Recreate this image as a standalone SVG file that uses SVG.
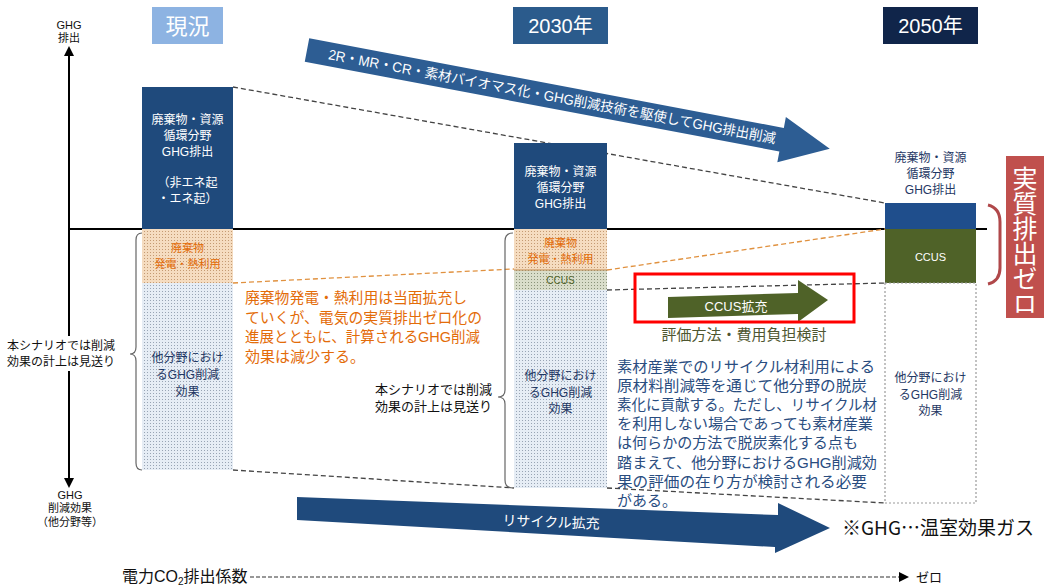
<svg xmlns="http://www.w3.org/2000/svg" width="1044" height="588" viewBox="0 0 1044 588">
<defs>
<style>
text{font-family:"Liberation Sans","Noto Sans CJK JP",sans-serif;}
.j{font-family:"Noto Sans CJK JP",sans-serif;}
.c{text-anchor:middle;}
.w{fill:#ffffff;}
.nv{fill:#1f3864;}
.or{fill:#e36c09;}
.bk{fill:#111111;}
.bl{fill:#2a4d7f;}
.dash{fill:none;stroke:#444;stroke-width:1.3;stroke-dasharray:5,3;}
.odash{fill:none;stroke:#e0913f;stroke-width:1.3;stroke-dasharray:5,3;}
.brace{fill:none;stroke:#666;stroke-width:1.2;}
</style>
<pattern id="dotBlue" width="3" height="3" patternUnits="userSpaceOnUse"><rect width="3" height="3" fill="#e6edf5"/><rect width="1" height="1" fill="#98a4b4"/></pattern>
<pattern id="dotOrange" width="3" height="3" patternUnits="userSpaceOnUse"><rect width="3" height="3" fill="#f5dcc0"/><rect width="1" height="1" fill="#c49a72"/></pattern>
<pattern id="dotGreen" width="3" height="3" patternUnits="userSpaceOnUse"><rect width="3" height="3" fill="#d9ddca"/><rect width="1" height="1" fill="#8a937a"/></pattern>
</defs>
<rect width="1044" height="588" fill="#ffffff"/>

<g id="axes">
<line x1="69" y1="55" x2="69" y2="480" stroke="#000" stroke-width="2"/>
<polygon points="69,46 64,56 74,56" fill="#000"/>
<polygon points="69,488 64,478 74,478" fill="#000"/>
<line x1="69" y1="229" x2="987" y2="229" stroke="#000" stroke-width="2"/>
<text class="c bk" x="69" y="29" font-size="11">GHG</text>
<text class="c bk" x="69" y="42" font-size="11">排出</text>
<text class="c bk" x="70" y="499" font-size="11">GHG</text>
<text class="c bk" x="70" y="512" font-size="11">削減効果</text>
<text class="c bk" x="70" y="526" font-size="11">（他分野等）</text>
</g>

<g id="header-now">
<rect x="152" y="7" width="71" height="37" fill="#8db3e2"/>
<text class="c w" x="187.5" y="34" font-size="22">現況</text>
</g>
<g id="header-2030">
<rect x="513" y="7" width="95" height="37" fill="#2b5b8c"/>
<text class="c w" x="560.5" y="33" font-size="20">2030年</text>
</g>
<g id="header-2050">
<rect x="883" y="7" width="95" height="37" fill="#10254a"/>
<text class="c w" x="930.5" y="33" font-size="20">2050年</text>
</g>

<g id="connectors">
<line class="dash" x1="233" y1="87" x2="885" y2="203"/>
<line class="odash" x1="233" y1="283" x2="514" y2="269"/>
<line class="odash" x1="607" y1="270" x2="885" y2="229"/>
<line class="dash" x1="607" y1="290" x2="885" y2="283" stroke="#666"/>
<line class="dash" x1="233" y1="470" x2="514" y2="488"/>
<line class="dash" x1="607" y1="488" x2="885" y2="503"/>
</g>

<g id="col-now">
<rect x="142" y="87" width="91" height="142" fill="#1f4a7c"/>
<text class="c w" x="187.5" y="124" font-size="12">廃棄物・資源</text>
<text class="c w" x="187.5" y="140" font-size="12">循環分野</text>
<text class="c w" x="187.5" y="156" font-size="12">GHG排出</text>
<text class="c w" x="187.5" y="187" font-size="12">（非エネ起</text>
<text class="c w" x="187.5" y="203" font-size="12">・エネ起）</text>
<rect x="142" y="229" width="91" height="54" fill="url(#dotOrange)"/>
<text class="c or" x="187.5" y="252" font-size="11">廃棄物</text>
<text class="c or" x="187.5" y="268" font-size="11">発電・熱利用</text>
<rect x="142" y="283" width="91" height="187" fill="url(#dotBlue)"/>
<text class="c nv" x="187.5" y="362" font-size="12">他分野におけ</text>
<text class="c nv" x="187.5" y="379" font-size="12">るGHG削減</text>
<text class="c nv" x="187.5" y="396" font-size="12">効果</text>
</g>

<g id="note-now">
<path class="brace" d="M142,233 Q136,233 136,240 L136,347 Q136,354 130,354 Q136,354 136,361 L136,463 Q136,470 142,470"/>
<rect x="5" y="336" width="114" height="35" fill="#ffffff"/>
<text class="c bk" x="61" y="350" font-size="12">本シナリオでは削減</text>
<text class="c bk" x="61" y="366" font-size="12">効果の計上は見送り</text>
</g>

<g id="col-2030">
<rect x="514" y="143" width="93" height="86" fill="#1f4a7c"/>
<text class="c w" x="560.5" y="176" font-size="12">廃棄物・資源</text>
<text class="c w" x="560.5" y="192" font-size="12">循環分野</text>
<text class="c w" x="560.5" y="208" font-size="12">GHG排出</text>
<rect x="514" y="229" width="93" height="41" fill="url(#dotOrange)"/>
<text class="c or" x="560.5" y="247" font-size="11">廃棄物</text>
<text class="c or" x="560.5" y="263" font-size="11">発電・熱利用</text>
<rect x="514" y="270" width="93" height="20" fill="url(#dotGreen)"/>
<line x1="514" y1="270" x2="607" y2="270" stroke="#c08a50" stroke-width="1"/>
<text class="c" x="560.5" y="284" font-size="10" fill="#4f6228">CCUS</text>
<rect x="514" y="290" width="93" height="198" fill="url(#dotBlue)"/>
<text class="c nv" x="560.5" y="380" font-size="12">他分野におけ</text>
<text class="c nv" x="560.5" y="397" font-size="12">るGHG削減</text>
<text class="c nv" x="560.5" y="413" font-size="12">効果</text>
</g>

<g id="note-2030">
<path class="brace" d="M513,233 Q505,233 505,241 L505,390 Q505,397 498,397 Q505,397 505,404 L505,480 Q505,488 513,488"/>
<text class="bk" x="492" y="394" font-size="13" text-anchor="end">本シナリオでは削減</text>
<text class="bk" x="492" y="411" font-size="13" text-anchor="end">効果の計上は見送り</text>
</g>

<g id="col-2050">
<text class="c nv" x="930.5" y="162" font-size="12">廃棄物・資源</text>
<text class="c nv" x="930.5" y="178" font-size="12">循環分野</text>
<text class="c nv" x="930.5" y="194" font-size="12">GHG排出</text>
<rect x="885" y="203" width="91" height="26" fill="#1f4e8c"/>
<rect x="885" y="229" width="91" height="54" fill="#4f6228"/>
<text class="c w" x="930.5" y="261" font-size="11">CCUS</text>
<rect x="885" y="283" width="91" height="220" fill="none" stroke="#9a9a9a" stroke-width="1.2" stroke-dasharray="2,2"/>
<text class="c nv" x="930.5" y="382" font-size="12">他分野におけ</text>
<text class="c nv" x="930.5" y="399" font-size="12">るGHG削減</text>
<text class="c nv" x="930.5" y="415" font-size="12">効果</text>
</g>

<g id="net-zero">
<path d="M988,205 Q1000,208 1000,222 L1000,268 Q1000,281 988,284" fill="none" stroke="#b0484a" stroke-width="3"/>
<rect x="1006" y="156" width="50" height="162" fill="#c0504d"/>
<text class="j w" x="1025" y="166" font-size="25" writing-mode="vertical-rl">実質排出ゼロ</text>
</g>

<g id="arrow-top">
<g transform="translate(307,50) rotate(10.7)">
<polygon points="0,-12 483,-12 483,-23 532,0 483,23 483,12 0,12" fill="#2d5d93"/>
<text class="w" x="22" y="5" font-size="14" textLength="455" lengthAdjust="spacingAndGlyphs">2R・MR・CR・素材バイオマス化・GHG削減技術を駆使してGHG排出削減</text>
</g>
</g>

<g id="text-orange">
<text class="or" x="245" y="303" font-size="15" textLength="222" lengthAdjust="spacingAndGlyphs">廃棄物発電・熱利用は当面拡充し</text>
<text class="or" x="245" y="323" font-size="15" textLength="237" lengthAdjust="spacingAndGlyphs">ていくが、電気の実質排出ゼロ化の</text>
<text class="or" x="245" y="342" font-size="15" textLength="235" lengthAdjust="spacingAndGlyphs">進展とともに、計算されるGHG削減</text>
<text class="or" x="245" y="362" font-size="15" textLength="120" lengthAdjust="spacingAndGlyphs">効果は減少する。</text>
</g>

<g id="ccus-expand">
<polygon points="668,297 798,293 798,280 828,300 798,322 798,314 668,318" fill="#4f6228"/>
<text class="c w" x="736" y="311" font-size="13">CCUS拡充</text>
<rect x="635" y="274" width="219" height="48" fill="none" stroke="#ff0000" stroke-width="3"/>
<text class="c" x="744" y="340" font-size="15" fill="#4e5630">評価方法・費用負担検討</text>
</g>

<g id="text-blue">
<text class="bl" x="617" y="372" font-size="15" textLength="258" lengthAdjust="spacingAndGlyphs">素材産業でのリサイクル材利用による</text>
<text class="bl" x="617" y="391" font-size="15" textLength="250" lengthAdjust="spacingAndGlyphs">原材料削減等を通じて他分野の脱炭</text>
<text class="bl" x="617" y="410" font-size="15" textLength="260" lengthAdjust="spacingAndGlyphs">素化に貢献する。ただし、リサイクル材</text>
<text class="bl" x="617" y="429" font-size="15" textLength="256" lengthAdjust="spacingAndGlyphs">を利用しない場合であっても素材産業</text>
<text class="bl" x="617" y="448" font-size="15" textLength="241" lengthAdjust="spacingAndGlyphs">は何らかの方法で脱炭素化する点も</text>
<text class="bl" x="617" y="468" font-size="15" textLength="260" lengthAdjust="spacingAndGlyphs">踏まえて、他分野におけるGHG削減効</text>
<text class="bl" x="617" y="487" font-size="15" textLength="250" lengthAdjust="spacingAndGlyphs">果の評価の在り方が検討される必要</text>
<text class="bl" x="617" y="506" font-size="15">がある。</text>
</g>

<g id="arrow-recycle">
<polygon points="297,497 778,515 778,503 830,528 775,553 775,547 297,520" fill="#1f4a7c"/>
<text class="c w" x="551" y="527" font-size="14" transform="rotate(2 551 522)">リサイクル拡充</text>
</g>

<g id="footnote">
<text class="j" x="842" y="535" font-size="19" fill="#111" xml:lang="ja">※GHG…温室効果ガス</text>
</g>

<g id="co2-factor">
<text x="122" y="582" font-size="16" fill="#111">電力CO<tspan font-size="10" dy="3">2</tspan><tspan dy="-3">排出係数</tspan></text>
<line x1="250" y1="577" x2="899" y2="577" stroke="#333" stroke-width="1.2" stroke-dasharray="4,2"/>
<polygon points="899,572 909,577 899,582" fill="#000"/>
<text x="916" y="582" font-size="13" fill="#111">ゼロ</text>
</g>
</svg>
